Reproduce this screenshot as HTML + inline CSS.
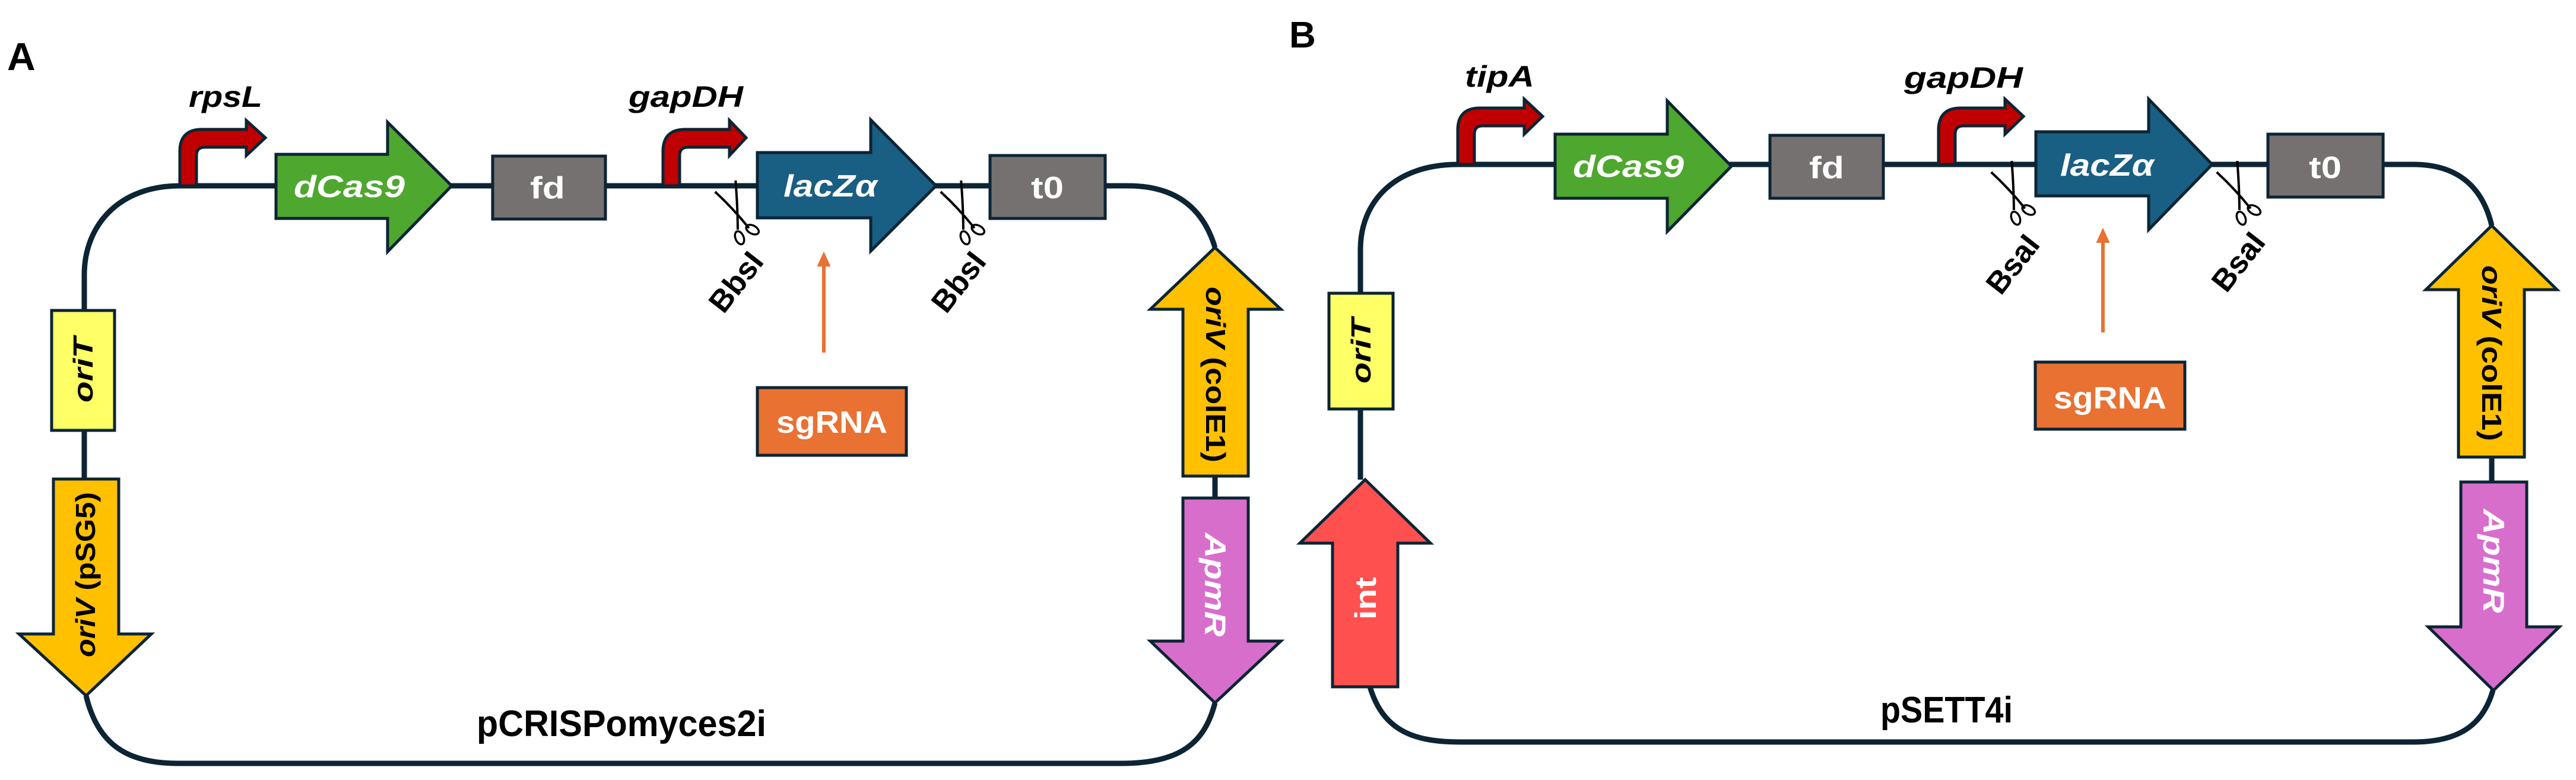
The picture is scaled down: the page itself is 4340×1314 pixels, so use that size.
<!DOCTYPE html>
<html><head><meta charset="utf-8"><style>
html,body{margin:0;padding:0;background:#fff;}
svg{display:block;}
text{font-family:"Liberation Sans",sans-serif;font-weight:bold;}
</style></head><body>
<svg width="4340" height="1314" viewBox="0 0 4340 1314" xmlns="http://www.w3.org/2000/svg">
<defs>
<g id="sc">
  <path d="M -18 -42 Q -2 -8 8 26" fill="none" stroke="#000" stroke-width="3.5"/>
  <path d="M 16 -46 Q 4 -8 -8 22" fill="none" stroke="#000" stroke-width="3.5"/>
  <ellipse cx="-10" cy="34" rx="6" ry="10" fill="none" stroke="#000" stroke-width="3"/>
  <ellipse cx="12" cy="30" rx="6" ry="10" fill="none" stroke="#000" stroke-width="3" transform="rotate(-40 12 30)"/>
</g>
</defs>
<g stroke="#0c2434" stroke-width="9" fill="none">
  <path d="M 303 313 H 1900 C 1990 313 2030 360 2047 417"/>
  <path d="M 303 313 C 200 313 142 380 142 463 V 523"/>
  <path d="M 142 725 V 807"/>
  <path d="M 145 1172 C 165 1255 215 1286 300 1286 H 1890 C 1990 1286 2030 1250 2047 1184"/>
  <path d="M 2047 802 V 839"/>
  <path d="M 2456 277 H 4066 C 4150 277 4185 325 4198 380"/>
  <path d="M 2456 277 C 2350 277 2292 340 2292 420 V 494"/>
  <path d="M 2292 689 V 808"/>
  <path d="M 2308 1157 C 2330 1230 2380 1250 2460 1250 H 4066 C 4150 1250 4185 1215 4200 1163"/>
  <path d="M 4198 770 V 812"/>
</g>
<g stroke="#0c2434" stroke-width="5" stroke-linejoin="miter">
  <path fill="#C00000" d="M 303 313 V 255 Q 303 218 340 218 H 415 V 203 L 447 232 L 415 262 V 248 H 345 Q 331 248 331 262 V 313 Z"/>
  <path fill="#C00000" d="M 1117 313 V 255 Q 1117 218 1154 218 H 1229 V 203 L 1257 232 L 1229 262 V 248 H 1159 Q 1145 248 1145 262 V 313 Z"/>
  <polygon fill="#4EA72E" points="465,260 653,260 653,206 761,313 653,424 653,368 465,368"/>
  <rect x="830" y="263" width="190" height="106" fill="#767171"/>
  <polygon fill="#195E83" points="1276,257 1467,257 1467,202 1577,313 1467,423 1467,367 1276,367"/>
  <rect x="1668" y="262" width="194" height="106" fill="#767171"/>
  <rect x="1276" y="653" width="251" height="114" fill="#E97132"/>
  <rect x="87" y="523" width="106" height="202" fill="#FFFF66"/>
  <polygon fill="#FFC000" points="90,807 200,807 200,1068 255,1068 145,1172 32,1068 90,1068"/>
  <polygon fill="#FFC000" points="2047,417 2158,521 2103,521 2103,802 1993,802 1993,521 1938,521"/>
  <polygon fill="#D86ECC" points="1993,839 2103,839 2103,1080 2158,1080 2047,1184 1938,1080 1993,1080"/>
  <path fill="#C00000" d="M 2456 277 V 219 Q 2456 182 2493 182 H 2568 V 167 L 2599 196 L 2568 226 V 212 H 2498 Q 2484 212 2484 226 V 277 Z"/>
  <path fill="#C00000" d="M 3266 277 V 219 Q 3266 182 3303 182 H 3378 V 167 L 3409 196 L 3378 226 V 212 H 3308 Q 3294 212 3294 226 V 277 Z"/>
  <polygon fill="#4EA72E" points="2620,226 2809,226 2809,170 2917,280 2809,390 2809,334 2620,334"/>
  <rect x="2982" y="228" width="191" height="106" fill="#767171"/>
  <polygon fill="#195E83" points="3430,222 3620,222 3620,167 3727,277 3620,387 3620,330 3430,330"/>
  <rect x="3821" y="226" width="194" height="106" fill="#767171"/>
  <rect x="3429" y="610" width="252" height="113" fill="#E97132"/>
  <rect x="2239" y="494" width="108" height="195" fill="#FFFF66"/>
  <polygon fill="#FF5050" points="2300,808 2410,915 2355,915 2355,1157 2245,1157 2245,915 2190,915"/>
  <polygon fill="#FFC000" points="4198,380 4308,488 4253,488 4253,770 4142,770 4142,488 4087,488"/>
  <polygon fill="#D86ECC" points="4146,812 4257,812 4257,1056 4312,1056 4201,1163 4091,1056 4146,1056"/>
</g>
<g stroke="#E97132" stroke-width="6" fill="#E97132">
  <line x1="1388" y1="594" x2="1388" y2="440"/>
  <polygon points="1388,426 1378,448 1398,448" stroke-width="2"/>
  <line x1="3543" y1="560" x2="3543" y2="400"/>
  <polygon points="3543,386 3533,408 3553,408" stroke-width="2"/>
</g>
<use href="#sc" transform="translate(1242,360) rotate(-22) scale(1.15)"/>
<use href="#sc" transform="translate(1622,360) rotate(-22) scale(1.15)"/>
<use href="#sc" transform="translate(3392,327) rotate(-22) scale(1.15)"/>
<use href="#sc" transform="translate(3772,327) rotate(-22) scale(1.15)"/>
<text x="12" y="118" font-size="66">A</text>
<text x="2172" y="80" font-size="62">B</text>
<g font-style="italic" font-size="50" fill="#000">
  <text x="318" y="180" textLength="124" lengthAdjust="spacingAndGlyphs">rpsL</text>
  <text x="1059" y="180" textLength="193" lengthAdjust="spacingAndGlyphs">gapDH</text>
  <text x="2468" y="146" textLength="117" lengthAdjust="spacingAndGlyphs">tipA</text>
  <text x="3208" y="148" textLength="200" lengthAdjust="spacingAndGlyphs">gapDH</text>
</g>
<g fill="#fff" font-size="52">
  <text x="495" y="332" font-style="italic" textLength="187" lengthAdjust="spacingAndGlyphs">dCas9</text>
  <text x="893" y="334" textLength="59" lengthAdjust="spacingAndGlyphs">fd</text>
  <text x="1320" y="331" font-style="italic" font-weight="normal" textLength="158" lengthAdjust="spacingAndGlyphs">lacZα</text>
  <text x="1737" y="334" textLength="55" lengthAdjust="spacingAndGlyphs">t0</text>
  <text x="1308" y="729" textLength="187" lengthAdjust="spacingAndGlyphs">sgRNA</text>
  <text x="2650" y="298" font-style="italic" textLength="187" lengthAdjust="spacingAndGlyphs">dCas9</text>
  <text x="3048" y="300" textLength="59" lengthAdjust="spacingAndGlyphs">fd</text>
  <text x="3471" y="296" font-style="italic" font-weight="normal" textLength="158" lengthAdjust="spacingAndGlyphs">lacZα</text>
  <text x="3890" y="300" textLength="55" lengthAdjust="spacingAndGlyphs">t0</text>
  <text x="3460" y="688" textLength="190" lengthAdjust="spacingAndGlyphs">sgRNA</text>
</g>
<g fill="#000" font-size="62">
  <text x="803" y="1240" textLength="488" lengthAdjust="spacingAndGlyphs">pCRISPomyces2i</text>
  <text x="3168" y="1217" textLength="223" lengthAdjust="spacingAndGlyphs">pSETT4i</text>
</g>
<g font-size="52" fill="#000">
  <text transform="translate(1254,486) rotate(-52)" text-anchor="middle">BbsI</text>
  <text transform="translate(1629,486) rotate(-52)" text-anchor="middle">BbsI</text>
  <text transform="translate(3405,456) rotate(-52)" text-anchor="middle">BsaI</text>
  <text transform="translate(3785,452) rotate(-52)" text-anchor="middle">BsaI</text>
</g>
<g font-size="46" fill="#000">
  <text transform="translate(156,623) rotate(-90)" text-anchor="middle" font-style="italic" textLength="110" lengthAdjust="spacingAndGlyphs">oriT</text>
  <text transform="translate(160,968) rotate(-90)" text-anchor="middle" textLength="278" lengthAdjust="spacingAndGlyphs"><tspan font-style="italic">oriV</tspan> (pSG5)</text>
  <text transform="translate(2032,631) rotate(90)" text-anchor="middle" textLength="296" lengthAdjust="spacingAndGlyphs"><tspan font-style="italic">oriV</tspan> (colE1)</text>
  <text transform="translate(2309,591) rotate(-90)" text-anchor="middle" font-style="italic" textLength="110" lengthAdjust="spacingAndGlyphs">oriT</text>
  <text transform="translate(4182,595) rotate(90)" text-anchor="middle" textLength="296" lengthAdjust="spacingAndGlyphs"><tspan font-style="italic">oriV</tspan> (colE1)</text>
</g>
<g font-size="50" fill="#fff">
  <text transform="translate(2030,985) rotate(90)" text-anchor="middle" font-style="italic" textLength="175" lengthAdjust="spacingAndGlyphs">ApmR</text>
  <text transform="translate(4184,945) rotate(90)" text-anchor="middle" font-style="italic" textLength="175" lengthAdjust="spacingAndGlyphs">ApmR</text>
  <text transform="translate(2318,1008) rotate(-90)" text-anchor="middle" textLength="72" lengthAdjust="spacingAndGlyphs">int</text>
</g>
</svg>
</body></html>
